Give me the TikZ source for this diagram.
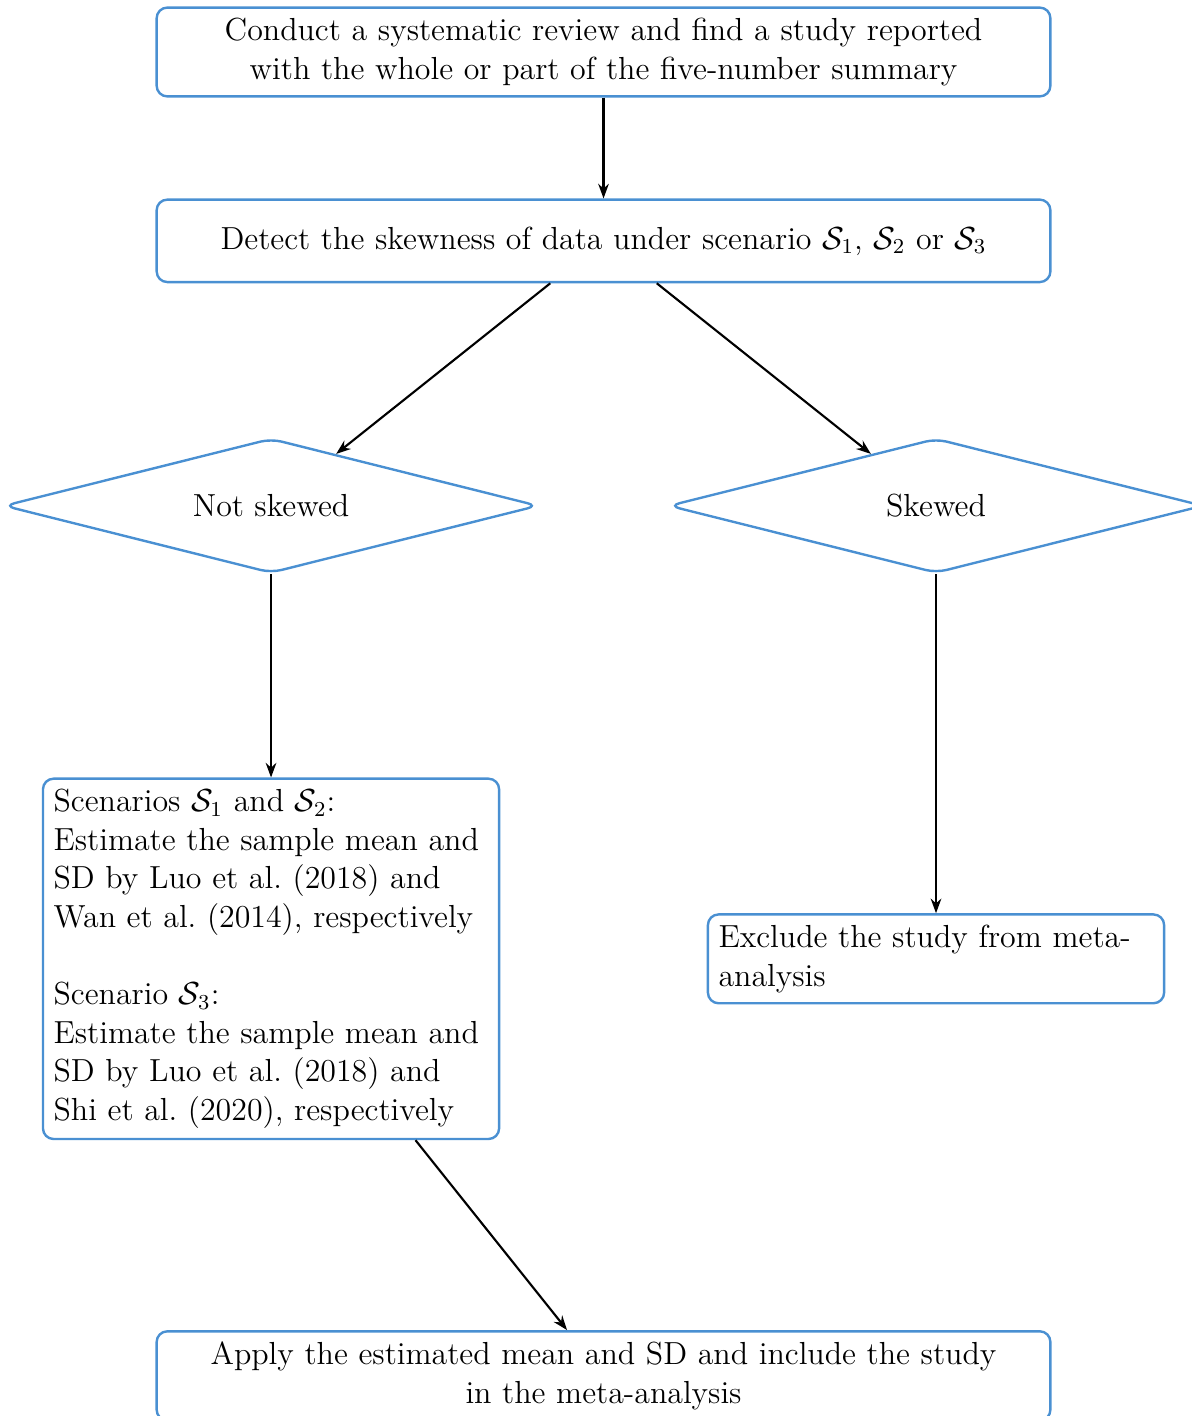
\documentclass[tikz,border=0pt,12pt]{standalone}
\usepackage{xcolor}
\usepackage{tikz}
\usetikzlibrary{positioning, arrows.meta, calc, shapes.geometric}
\definecolor{boxblue}{HTML}{4A90D2}

\tikzset{
  stepbox/.style={draw=boxblue, line width=0.9pt, rounded corners=4pt, minimum height=31pt},
  widebox/.style={stepbox, text width=328pt, align=center},
  textbox/.style={stepbox, text width=163.5pt, align=left},
  decision/.style={diamond, aspect=4, draw=boxblue, line width=0.9pt, rounded corners=4pt,
                   minimum width=201pt, minimum height=50.6pt},
  flowarrow/.style={-{Stealth[length=5.5pt, width=4pt]}, thick}
}

\begin{document}
\begin{tikzpicture}
    \useasboundingbox (-226.9pt,19.55pt) rectangle (220.9pt,-512.8pt);

    \node[widebox] (review) {%
      Conduct a systematic review and find a study reported\\
      with the whole or part of the five-number summary};
    \node[widebox, below=37.9pt of review] (detect) {%
      Detect the skewness of data under scenario $\mathcal{S}_1$, $\mathcal{S}_2$ or $\mathcal{S}_3$};

    \node[decision, below=57.9pt of detect, xshift=-125pt] (noskew) {Not skewed};
    \node[decision, below=57.9pt of detect, xshift=125pt] (skew) {Skewed};

    \node[textbox, below=76.4pt of noskew] (estimate) {%
      Scenarios $\mathcal{S}_1$ and $\mathcal{S}_2$:\\
      Estimate the sample mean and SD by Luo et al.\ (2018) and
      Wan et al.\ (2014), respectively\\[\baselineskip]
      Scenario $\mathcal{S}_3$:\\
      Estimate the sample mean and SD by Luo et al.\ (2018) and
      Shi et al.\ (2020), respectively};
    \node[textbox] (exclude) at (skew |- estimate) {Exclude the study from meta-analysis};

    \node[widebox, below=71.4pt of estimate, xshift=125pt] (apply) {%
      Apply the estimated mean and SD and include the study\\
      in the meta-analysis};

    % connectors
    \draw[flowarrow] (review) -- (detect);
    \draw[flowarrow] (detect) -- (noskew);
    \draw[flowarrow] (detect) -- (skew);
    \draw[flowarrow] (noskew) -- (estimate);
    \draw[flowarrow] (skew) -- (exclude);
    \draw[flowarrow] (estimate) -- (apply);
\end{tikzpicture}
\end{document}
